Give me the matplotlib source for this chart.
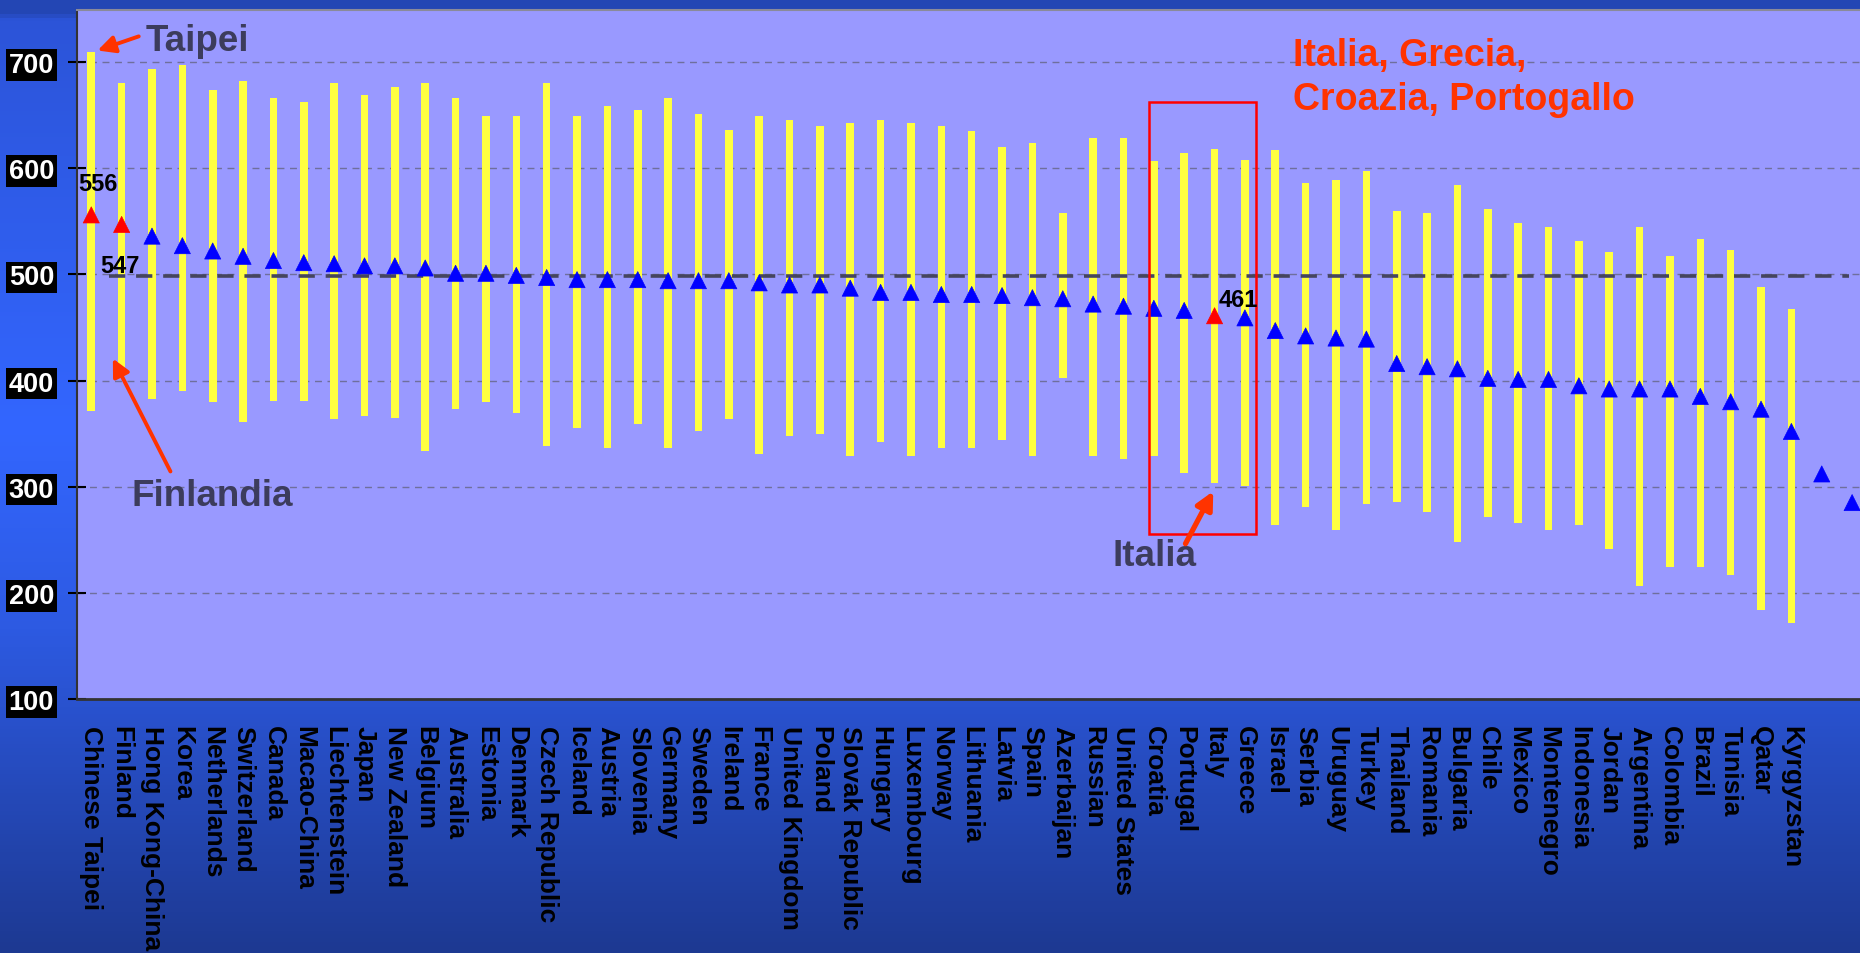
import numpy as np
import matplotlib
matplotlib.use('Agg')
import matplotlib.pyplot as plt
from matplotlib.patches import Rectangle
from matplotlib.colors import LinearSegmentedColormap

plt.rcParams['font.family'] = ['Liberation Sans', 'DejaVu Sans']

# paesi (ordinati come nel grafico)
countries = ['Chinese Taipei', 'Finland', 'Hong Kong-China', 'Korea', 'Netherlands',
             'Switzerland', 'Canada', 'Macao-China', 'Liechtenstein', 'Japan',
             'New Zealand', 'Belgium', 'Australia', 'Estonia', 'Denmark',
             'Czech Republic', 'Iceland', 'Austria', 'Slovenia', 'Germany',
             'Sweden', 'Ireland', 'France', 'United Kingdom', 'Poland',
             'Slovak Republic', 'Hungary', 'Luxembourg', 'Norway', 'Lithuania',
             'Latvia', 'Spain', 'Azerbaijan', 'Russian', 'United States',
             'Croatia', 'Portugal', 'Italy', 'Greece', 'Israel',
             'Serbia', 'Uruguay', 'Turkey', 'Thailand', 'Romania',
             'Bulgaria', 'Chile', 'Mexico', 'Montenegro', 'Indonesia',
             'Jordan', 'Argentina', 'Colombia', 'Brazil', 'Tunisia',
             'Qatar', 'Kyrgyzstan']

# estremi delle barre gialle
bar_high = [709, 680, 693, 697, 674, 682, 666, 662, 680, 669,
            676, 680, 666, 649, 649, 680, 649, 659, 655, 666,
            651, 636, 649, 645, 640, 643, 645, 643, 640, 635,
            620, 624, 558, 628, 628, 607, 614, 618, 608, 617,
            586, 589, 597, 560, 558, 584, 562, 548, 545, 531,
            521, 545, 517, 533, 523, 488, 467]
bar_low = [371, 408, 383, 390, 380, 361, 381, 381, 364, 367,
           365, 334, 373, 380, 369, 338, 355, 336, 359, 336,
           352, 364, 331, 348, 350, 329, 342, 329, 336, 336,
           344, 329, 402, 329, 326, 329, 313, 303, 301, 264,
           281, 259, 284, 286, 276, 248, 271, 266, 259, 264,
           241, 206, 224, 224, 217, 184, 172]

# punteggi medi (triangoli)
scores = [556, 547, 536, 527, 522, 517, 513, 511, 510, 508,
          508, 506, 501, 501, 499, 497, 495, 495, 495, 494,
          494, 494, 492, 490, 490, 487, 483, 483, 481, 481,
          480, 478, 477, 472, 470, 468, 466, 461, 459, 447,
          442, 440, 439, 416, 413, 411, 402, 401, 401, 395,
          392, 392, 392, 385, 380, 373, 352, 312, 285]
red_idx = [0, 1, 37]

oecd_avg = 498
yticks = [100, 200, 300, 400, 500, 600, 700]

fig = plt.figure(figsize=(18.6, 9.54), dpi=100)

# sfondo sfumato
bg = fig.add_axes([0, 0, 1, 1], zorder=-10)
cmap = LinearSegmentedColormap.from_list('bg', [
    (0.0, '#2346b4'), (0.012, '#2346b4'), (0.02, '#2c54d8'),
    (0.45, '#3366ff'), (0.66, '#2d5ae2'), (1.0, '#1d3992')])
grad = np.linspace(0, 1, 256).reshape(-1, 1)
bg.imshow(grad, aspect='auto', cmap=cmap, extent=[0, 1, 0, 1], origin='upper')
bg.axis('off')

ax = fig.add_axes([77 / 1860, 254 / 954, 1783 / 1860, 689 / 954])
ax.set_facecolor('#9999ff')

x = np.arange(len(scores))
xb = np.arange(len(countries))
lo = np.array(bar_low)
hi = np.array(bar_high)
ax.bar(xb, hi - lo, bottom=lo, width=0.25, color='#ffff40', zorder=2)

ax.plot([0.6, 57.9], [oecd_avg, oecd_avg], color='#45455e', lw=2.6,
        dashes=(4.5, 3), zorder=3)

cols = ['red' if i in red_idx else 'blue' for i in x]
ax.scatter(x, scores, marker='^', s=135, c=cols, edgecolors=cols,
           linewidths=0.5, zorder=4)

ax.add_patch(Rectangle((34.84, 255), 3.52, 407, fill=False,
                       edgecolor='#ff0000', lw=1.8, zorder=5))

ax.set_xlim(-0.47, 58.26)
ax.set_ylim(100, 749)
ax.set_yticks(yticks)
ax.yaxis.grid(True, linestyle=(0, (5, 4)), color='#6f6f9c', lw=1, zorder=0)
ax.set_axisbelow(True)

ax.set_xticks(x)
ax.set_xticklabels(countries + ['', ''], rotation=-90, fontsize=19,
                   fontweight='bold', va='top', ha='center')
ax.tick_params(axis='x', length=0, pad=19)
ax.tick_params(axis='y', direction='inout', length=13, width=1.5,
               pad=10, labelsize=19.5, labelcolor='white')
for lab in ax.get_yticklabels():
    lab.set_fontweight('bold')
    lab.set_bbox(dict(facecolor='black', edgecolor='none', pad=2))

ax.spines['right'].set_visible(False)
ax.spines['top'].set_color('#8a8a9a')
ax.spines['top'].set_linewidth(1.5)
ax.spines['left'].set_color('#333333')
ax.spines['left'].set_linewidth(1.5)
ax.spines['bottom'].set_color('#333333')
ax.spines['bottom'].set_linewidth(2)

# annotazioni
dark = '#3c3c5c'
arrow = dict(arrowstyle='-|>', color='#ff3300', lw=2.8, mutation_scale=26)
ax.text(1.80, 711, 'Taipei', fontsize=26.5, fontweight='bold', color=dark,
        va='baseline', zorder=6)
ax.annotate('', xy=(0.12, 710), xytext=(1.65, 725), arrowprops=arrow, zorder=6)
ax.text(1.33, 283, 'Finlandia', fontsize=26.5, fontweight='bold', color=dark,
        va='baseline', zorder=6)
ax.annotate('', xy=(0.67, 423), xytext=(2.65, 312), arrowprops=arrow, zorder=6)
ax.text(33.65, 226, 'Italia', fontsize=26.5, fontweight='bold', color=dark,
        va='baseline', zorder=6)
ax.annotate('', xy=(37.0, 298), xytext=(36.0, 244),
            arrowprops=dict(arrowstyle='-|>', color='#ff3300', lw=3.8,
                            mutation_scale=26), zorder=6)
ax.text(39.6, 697, 'Italia, Grecia,', fontsize=27, fontweight='bold',
        color='#ff3300', va='baseline', zorder=6)
ax.text(39.6, 656, 'Croazia, Portogallo', fontsize=27, fontweight='bold',
        color='#ff3300', va='baseline', zorder=6)

ax.text(-0.43, 579, '556', fontsize=17, fontweight='bold', va='baseline', zorder=6)
ax.text(0.31, 502, '547', fontsize=17, fontweight='bold', va='baseline', zorder=6)
ax.text(37.12, 470, '461', fontsize=17, fontweight='bold', va='baseline', zorder=6)

fig.savefig('out.png', dpi=100)
